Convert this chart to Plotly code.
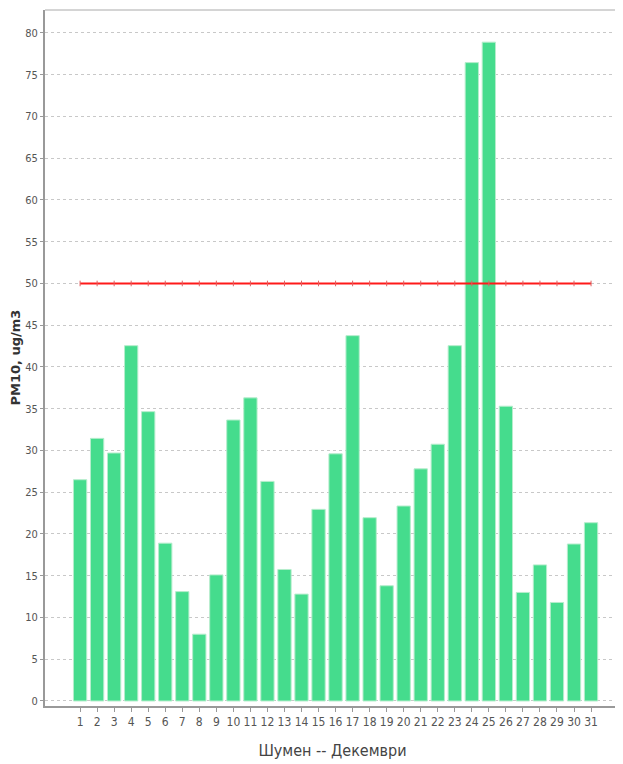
import plotly.graph_objects as go

days = [str(i) for i in range(1, 32)]
pm10 = [26.5, 31.45, 29.7, 42.55, 34.65, 18.9, 13.1, 8.0, 15.1, 33.65,
        36.3, 26.3, 15.75, 12.8, 22.95, 29.6, 43.75, 21.95, 13.8, 23.35,
        27.8, 30.75, 42.55, 76.45, 78.9, 35.3, 13.0, 16.3, 11.8, 18.8, 21.35]
limit = [50] * len(days)
y_ticks = list(range(0, 85, 5))

narrow = "Liberation Sans Narrow, DejaVu Sans Condensed, Arial Narrow, sans-serif"

fig = go.Figure()
fig.add_trace(go.Bar(
    x=days, y=pm10, width=0.78,
    marker=dict(color="#45dc8d", line=dict(color="#b5edcc", width=1)),
    showlegend=False,
))
fig.add_trace(go.Scatter(
    x=days, y=limit, mode="lines+markers",
    line=dict(color="#ff1a1a", width=2),
    marker=dict(symbol="line-ns", size=4, line=dict(color="#e06060", width=1)),
    showlegend=False,
))

fig.update_layout(
    width=615, height=756,
    margin=dict(l=37, r=3, t=2, b=58),
    paper_bgcolor="white", plot_bgcolor="white",
    xaxis=dict(
        type="category", range=[-2.06, 31.7], automargin=False,
        showgrid=False, showline=True, linecolor="#999999", linewidth=2,
        ticks="outside", ticklen=4, tickcolor="#999999",
        tickfont=dict(family=narrow, size=12, color="#555555"),
        title=dict(text="Шумен -- Декември", standoff=16,
                   font=dict(family=narrow, size=16, color="#444444")),
        zeroline=False,
    ),
    yaxis=dict(
        range=[-0.6, 82.75], automargin=False,
        tickvals=y_ticks, ticktext=[str(v) for v in y_ticks],
        showgrid=True, gridcolor="#c8c8c8", griddash="dot", gridwidth=1,
        showline=True, linecolor="#999999", linewidth=2,
        ticks="outside", ticklen=3, tickcolor="#999999",
        tickfont=dict(family=narrow, size=11, color="#555555"),
        zeroline=False,
    ),
    annotations=[dict(
        text="<b>PM10, ug/m3</b>", textangle=-90, showarrow=False,
        xref="paper", yref="paper", x=-0.053, y=0.5,
        xanchor="center", yanchor="middle", borderpad=0,
        font=dict(family="DejaVu Sans, Verdana, sans-serif", size=13, color="#333333"),
    )],
)
fig.add_shape(type="line", xref="paper", yref="paper", x0=0, x1=1, y0=1, y1=1,
              line=dict(color="#aaaaaa", width=1))
fig.write_html("out.html")
